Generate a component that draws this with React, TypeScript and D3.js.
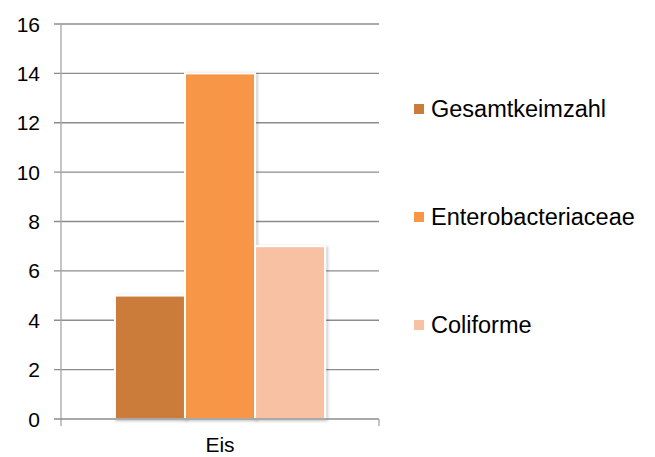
import * as d3 from "d3";

const categories = ["Eis"];
const seriesNames = ["Gesamtkeimzahl", "Enterobacteriaceae", "Coliforme"];
const seriesValues = [5, 14, 7];
const seriesColors = ["#CB7B3A", "#F79646", "#F9C1A4"];
const yTicks = [0, 2, 4, 6, 8, 10, 12, 14, 16];

const W = 655;
const H = 457;
const plot = { left: 61, right: 379, top: 24, bottom: 419 };
const font = "'Liberation Sans', Arial, sans-serif";

export default function App() {
  const y = d3.scaleLinear([0, 16], [plot.bottom, plot.top]);
  const x0 = d3.scaleBand(categories, [plot.left, plot.right]);
  const x1 = d3
    .scaleBand(seriesNames, [0, x0.bandwidth()])
    .paddingInner(0)
    .paddingOuter(0.77);
  const legendY = d3.scalePoint(seriesNames, [109, 325]);

  return (
    <svg
      width={W}
      height={H}
      style={{ position: "absolute", left: 0, top: 0, fontFamily: font }}
    >
      <defs>
        <filter id="sh" x="-20%" y="-20%" width="140%" height="140%">
          <feDropShadow dx="1.5" dy="1" stdDeviation="1.5" floodColor="#000" floodOpacity="0.25" />
        </filter>
      </defs>
      <rect width={W} height={H} fill="#fff" />
      {/* gridlines + y ticks */}
      {yTicks.map((t) => (
        <g key={t}>
          {t > 0 && (
            <line
              x1={plot.left - 7}
              x2={plot.right}
              y1={y(t)}
              y2={y(t)}
              stroke="#8c8c8c"
              strokeWidth={1.3}
            />
          )}
          <text
            x={40}
            y={y(t)}
            textAnchor="end"
            dominantBaseline="central"
            fontSize={21}
            fill="#000"
          >
            {t}
          </text>
        </g>
      ))}
      {/* bars */}
      {categories.map((c) =>
        seriesNames.map((s, i) => (
          <rect
            key={c + s}
            x={x0(c)! + x1(s)!}
            y={y(seriesValues[i])}
            width={x1.bandwidth()}
            height={y(0) - y(seriesValues[i])}
            fill={seriesColors[i]}
            stroke="#fff"
            strokeWidth={2}
            filter="url(#sh)"
          />
        ))
      )}
      {/* y axis */}
      <line x1={plot.left} x2={plot.left} y1={plot.top} y2={plot.bottom + 7} stroke="#a6a6a6" strokeWidth={1.3} />
      {/* x axis */}
      <line x1={plot.left - 7} x2={plot.right} y1={plot.bottom} y2={plot.bottom} stroke="#8c8c8c" strokeWidth={1.3} />
      <line x1={plot.right} x2={plot.right} y1={plot.bottom} y2={plot.bottom + 7} stroke="#a6a6a6" strokeWidth={1.3} />
      {categories.map((c) => (
        <text
          key={c}
          x={x0(c)! + x0.bandwidth() / 2}
          y={452}
          textAnchor="middle"
          fontSize={21}
          fill="#000"
        >
          {c}
        </text>
      ))}
      {/* legend */}
      {seriesNames.map((s, i) => (
        <g key={s} transform={`translate(414,${legendY(s)})`}>
          <rect x={0} y={-5} width={10} height={10} fill={seriesColors[i]} />
          <text x={17} y={0} dominantBaseline="central" fontSize={23.5} fill="#000">
            {s}
          </text>
        </g>
      ))}
    </svg>
  );
}
